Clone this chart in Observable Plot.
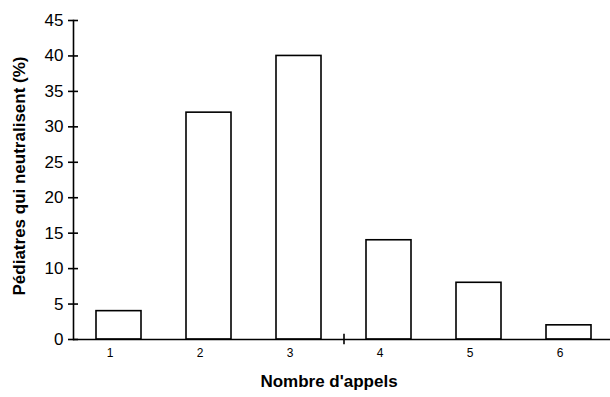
<!DOCTYPE html>
<html>
<head>
<meta charset="utf-8">
<script src="https://cdn.jsdelivr.net/npm/d3@7"></script>
<script src="https://cdn.jsdelivr.net/npm/@observablehq/plot@0.6"></script>
<style>
  body { margin: 0; background: white; }
  svg { font-family: Arial, "Liberation Sans", sans-serif; }
</style>
</head>
<body>
<div id="chart"></div>
<script>
const categories = ["1", "2", "3", "4", "5", "6"];
const values = [4, 32, 40, 14, 8, 2];
const yTicks = [0, 5, 10, 15, 20, 25, 30, 35, 40, 45];
const breakAt = ["4"];
const xTitle = "Nombre d'appels";
const yTitle = "Pédiatres qui neutralisent (%)";

const data = categories.map((c, i) => ({cat: c, value: values[i]}));

const chart = Plot.plot({
  width: 610,
  height: 397,
  marginLeft: 73,
  marginRight: 0,
  marginTop: 20,
  marginBottom: 58,
  style: {fontFamily: "Arial, 'Liberation Sans', sans-serif", color: "black", background: "white"},
  x: {domain: categories, range: [73.5, 613.5], paddingInner: 0.5, paddingOuter: 0.25},
  y: {domain: [0, 45]},
  marks: [
    Plot.barY(data, {x: "cat", y: "value", fill: "white", stroke: "black", strokeWidth: 1.6}),
    Plot.ruleY([0], {stroke: "black", strokeWidth: 1.6}),
    Plot.frame({anchor: "left", stroke: "black", strokeWidth: 1.6}),
    Plot.axisY(yTicks, {tickSize: 10, dx: 5, tickFormat: () => "", label: null, strokeWidth: 1.6}),
    Plot.axisY(yTicks, {tickSize: 0, tickPadding: 10, fontSize: 17, label: null}),
    Plot.axisX({tickSize: 0, tickPadding: 9, dx: -9, fontSize: 12, label: null}),
    Plot.ruleX(breakAt, {x: d => d, y1: -0.75, y2: 0.75, dx: -45, stroke: "black", strokeWidth: 1.6}),
    Plot.text([xTitle], {frameAnchor: "bottom", textAnchor: "middle", dy: 47, dx: -13, fontWeight: "bold", fontSize: 17, fill: "black"}),
    Plot.text([yTitle], {frameAnchor: "left", textAnchor: "middle", rotate: -90, dx: -54, dy: -4, fontWeight: "bold", fontSize: 17, fill: "black"})
  ]
});
document.getElementById("chart").appendChild(chart);
</script>
</body>
</html>
